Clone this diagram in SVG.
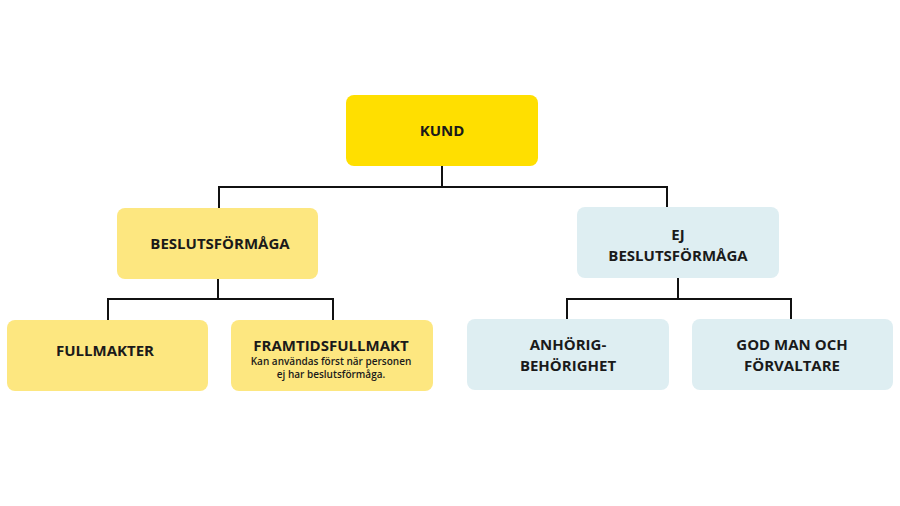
<svg xmlns="http://www.w3.org/2000/svg" width="900" height="506" viewBox="0 0 900 506">
<style>
.t{font-family:"Open Sans","Liberation Sans",sans-serif;font-weight:700;font-size:15px;fill:#1a1a1a;text-anchor:middle}
.s{font-family:"Open Sans","Liberation Sans",sans-serif;font-weight:600;font-size:10px;fill:#1a1a1a;text-anchor:middle}
.y{fill:#fde780}.b{fill:#deeef2}
.c{fill:none;stroke:#111;stroke-width:2}
</style>
<rect width="900" height="506" fill="#fff"/>
<g id="connectors" class="c">
<path d="M442 166V187M219 208V187H667V208"/>
<path d="M218 279V299M108 320V299H333V320"/>
<path d="M678 278V299M567 320V299H791V320"/>
</g>
<g id="kund"><rect x="346" y="95" width="192" height="71" rx="8" fill="#ffdf00"/><text class="t" x="442" y="136">KUND</text></g>
<g id="besluts"><rect x="117" y="208" width="201" height="71" rx="8" class="y"/><text class="t" x="220" y="249">BESLUTSFÖRMÅGA</text></g>
<g id="ej"><rect x="577" y="207" width="202" height="71" rx="8" class="b"/><text class="t" x="678" y="240">EJ</text><text class="t" x="678" y="261">BESLUTSFÖRMÅGA</text></g>
<g id="fullmakter"><rect x="7" y="320" width="201" height="71" rx="8" class="y"/><text class="t" x="105" y="356">FULLMAKTER</text></g>
<g id="framtid"><rect x="231" y="320" width="202" height="71" rx="8" class="y"/><text class="t" x="331" y="351">FRAMTIDSFULLMAKT</text><text class="s" x="331" y="365">Kan användas först när personen</text><text class="s" x="331" y="378">ej har beslutsförmåga.</text></g>
<g id="anhorig"><rect x="467" y="319" width="202" height="71" rx="8" class="b"/><text class="t" x="568" y="350">ANHÖRIG-</text><text class="t" x="568" y="371">BEHÖRIGHET</text></g>
<g id="godman"><rect x="692" y="319" width="201" height="71" rx="8" class="b"/><text class="t" x="792" y="350">GOD MAN OCH</text><text class="t" x="792" y="371">FÖRVALTARE</text></g>
</svg>
